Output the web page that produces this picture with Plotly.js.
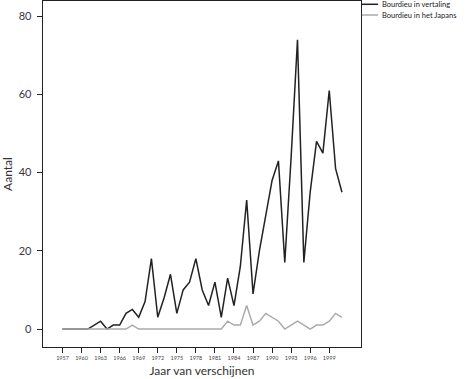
<!DOCTYPE html>
<html>
<head>
<meta charset="utf-8">
<script src="https://cdn.plot.ly/plotly-3.0.1.min.js"></script>
<style>
  html, body { margin: 0; padding: 0; background: #fff; }
  #chart { width: 470px; height: 379px; }
</style>
</head>
<body>
<div id="chart"></div>
<script>
const years = [1957,1958,1959,1960,1961,1962,1963,1964,1965,1966,1967,1968,1969,1970,1971,1972,1973,1974,1975,1976,1977,1978,1979,1980,1981,1982,1983,1984,1985,1986,1987,1988,1989,1990,1991,1992,1993,1994,1995,1996,1997,1998,1999,2000,2001];
const vertaling = [0,0,0,0,0,1,2,0,1,1,4,5,3,7,18,3,8,14,4,10,12,18,10,6,12,3,13,6,16,33,9,20,29,38,43,17,44,74,17,35,48,45,61,41,35];
const japans = [0,0,0,0,0,0,0,0,0,0,0,1,0,0,0,0,0,0,0,0,0,0,0,0,0,0,2,1,1,6,1,2,4,3,2,0,1,2,1,0,1,1,2,4,3];
const tickYears = [1957,1960,1963,1966,1969,1972,1975,1978,1981,1984,1987,1990,1993,1996,1999];
const yTicks = [0,20,40,60,80];
const seriesNames = ["Bourdieu in vertaling", "Bourdieu in het Japans"];
const seriesColors = ["#222222", "#aaaaaa"];

const FONT = "Lato, 'Open Sans', sans-serif";

const traces = [
  { x: years, y: vertaling, type: "scatter", mode: "lines", name: seriesNames[0],
    line: { color: seriesColors[0], width: 1.5 }, showlegend: false },
  { x: years, y: japans, type: "scatter", mode: "lines", name: seriesNames[1],
    line: { color: seriesColors[1], width: 1.5 }, showlegend: false }
];

// manual legend (outside right of plot)
const legY = [0.9905, 0.9595];
const shapes = [], annotations = [];
seriesNames.forEach((n, i) => {
  shapes.push({ type: "line", xref: "paper", yref: "paper",
    x0: 1.003, x1: 1.0535, y0: legY[i], y1: legY[i],
    line: { color: seriesColors[i], width: 1.5 } });
  annotations.push({ xref: "paper", yref: "paper", x: 1.061, y: legY[i],
    xanchor: "left", yanchor: "middle", showarrow: false, text: n,
    font: { family: FONT, size: 7.5, color: "#222" } });
});

const layout = {
  width: 470, height: 379,
  margin: { l: 43, r: 109, t: 1, b: 32 },
  paper_bgcolor: "#fff", plot_bgcolor: "#fff",
  font: { family: FONT, color: "#333" },
  showlegend: false,
  xaxis: {
    range: [1953.93, 2004.0],
    tickvals: tickYears, ticktext: tickYears.map(String),
    ticks: "outside", ticklen: 5, tickwidth: 1, tickcolor: "#222",
    tickfont: { size: 5.5, color: "#444", family: FONT },
    showline: true, mirror: true, linecolor: "#222", linewidth: 1.3,
    showgrid: false, zeroline: false,
    title: { text: "Jaar van verschijnen", font: { size: 12, color: "#333", family: FONT }, standoff: 6 }
  },
  yaxis: {
    range: [-4.6, 83.9],
    tickvals: yTicks,
    ticks: "outside", ticklen: 5, tickwidth: 1, tickcolor: "#222",
    tickfont: { size: 11, color: "#3a3545", family: FONT },
    ticklabelstandoff: 3,
    showline: true, mirror: true, linecolor: "#222", linewidth: 1.3,
    showgrid: false, zeroline: false,
    title: { text: "Aantal", font: { size: 12, color: "#333", family: FONT }, standoff: 6 }
  },
  shapes: shapes,
  annotations: annotations
};

Plotly.newPlot("chart", traces, layout, { staticPlot: true, displayModeBar: false });
</script>
</body>
</html>
